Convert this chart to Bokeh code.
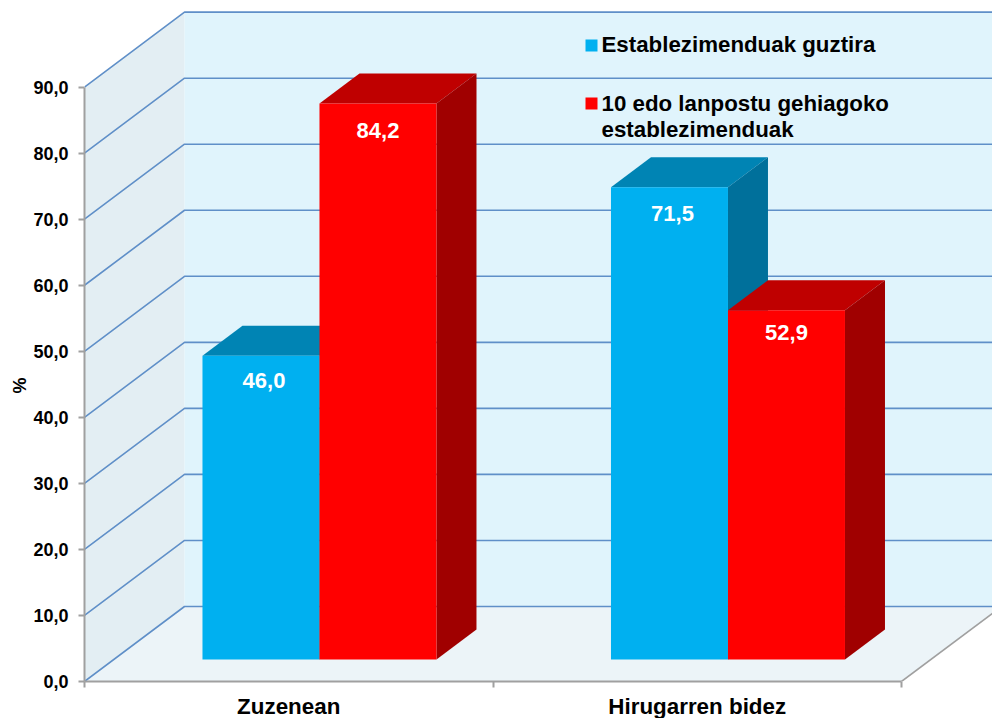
from bokeh.plotting import figure
from bokeh.models import Range1d, FixedTicker, Label, BoxAnnotation, Title
from bokeh.embed import file_html
from bokeh.resources import INLINE
from bokeh.core.properties import value

categories = ["Zuzenean", "Hirugarren bidez"]
series_names = ["Establezimenduak guztira", "10 edo lanpostu gehiagoko\nestablezimenduak"]
total_values = [46.0, 71.5]
large_values = [84.2, 52.9]
y_ticks = [0, 10, 20, 30, 40, 50, 60, 70, 80, 90]
y_tick_labels = ["0,0", "10,0", "20,0", "30,0", "40,0", "50,0", "60,0", "70,0", "80,0", "90,0"]

FONT = "Liberation Sans"
CAT_PX = 408.5
VAL_PX = 6.604
W, H = 992, 718
LEFT, BOTTOM = 84, 37
xmax = (W - LEFT) / CAT_PX
ymax = (H - BOTTOM) / VAL_PX

# 3-D projection: a depth of 1 is the back wall
DX = 100 / CAT_PX
DY = 75 / VAL_PX
def X(x, d=0.0):
    return x + d * DX
def Y(v, d=0.0):
    return v + d * DY
# page pixel to data, for the legend placement only
def PX(x):
    return (x - LEFT) / CAT_PX
def PY(y):
    return (H - BOTTOM - y) / VAL_PX

p = figure(width=W, height=H, output_backend="svg", toolbar_location=None,
           x_range=Range1d(0, xmax), y_range=Range1d(0, ymax),
           frame_width=W - LEFT, frame_height=H - BOTTOM,
           min_border_left=LEFT, min_border_right=0, min_border_top=0, min_border_bottom=BOTTOM)
p.outline_line_color = None
p.grid.visible = False
p.background_fill_color = "white"

top = y_ticks[-1]
p.patch([X(0), X(0, 1), X(0, 1), X(0)], [Y(0), Y(0, 1), Y(top, 1), Y(top)], fill_color="#E3EEF3", line_color=None)
p.patch([X(0, 1), X(2, 1.2), X(2, 1.2), X(0, 1)], [Y(0, 1), Y(0, 1), Y(top, 1), Y(top, 1)], fill_color="#E0F4FC", line_color=None)
p.patch([X(0), X(2), X(2, 1), X(0, 1)], [Y(0), Y(0), Y(0, 1), Y(0, 1)], fill_color="#ECF4F8", line_color=None)

GRID = "#5F8FC8"
for v in y_ticks:
    p.line([X(0), X(0, 1), X(2, 1.2)], [Y(v), Y(v, 1), Y(v, 1)], line_color=GRID, line_width=1.6)
p.line([X(2), X(2, 1.2)], [Y(0), Y(0, 1.2)], line_color="#A0A0A0", line_width=1.6)

# bars
D0 = 22 / 75
D1 = D0 + 30 / 75
BAR = 117 / CAT_PX
OFF = [0.2170, 0.2170 + BAR]

def bar(x0, v, face, roof, side):
    x1 = x0 + BAR
    p.patch([X(x0, D0), X(x1, D0), X(x1, D1), X(x0, D1)],
            [Y(v, D0), Y(v, D0), Y(v, D1), Y(v, D1)], fill_color=roof, line_color=None)
    p.patch([X(x1, D0), X(x1, D1), X(x1, D1), X(x1, D0)],
            [Y(0, D0), Y(0, D1), Y(v, D1), Y(v, D0)], fill_color=side, line_color=None)
    p.patch([X(x0, D0), X(x1, D0), X(x1, D0), X(x0, D0)],
            [Y(0, D0), Y(0, D0), Y(v, D0), Y(v, D0)], fill_color=face, line_color=None)

styles = [("#00B0F0", "#0084B4", "#00709B"), ("#FF0000", "#BF0000", "#A00000")]
for i in range(len(categories)):
    bar(i + OFF[0], total_values[i], *styles[0])
    bar(i + OFF[1], large_values[i], *styles[1])

label_dy = [[25, 26], [27, 22]]
label_dx = [3, 0]
for s, vals in enumerate([total_values, large_values]):
    xs = [X(i + OFF[s] + BAR / 2, D0) for i in range(len(vals))]
    ys = [Y(v, D0) for v in vals]
    p.text(xs, ys, text=[f"{v:.1f}".replace(".", ",") for v in vals], text_color="white",
           text_font=value(FONT), text_font_style="bold", text_font_size="22px",
           text_align="center", text_baseline="middle", x_offset=label_dx[s], y_offset=label_dy[s])

# axes
ya = p.yaxis[0]
ya.ticker = FixedTicker(ticks=y_ticks)
ya.major_label_overrides = dict(zip(y_ticks, y_tick_labels))
ya.bounds = (0, top)
ya.axis_line_color = "#A0A0A0"
ya.axis_line_width = 2
ya.major_tick_line_color = "#A0A0A0"
ya.major_tick_line_width = 2
ya.major_tick_in = 0
ya.major_tick_out = 6
ya.minor_tick_out = 0
ya.minor_tick_in = 0
ya.major_label_standoff = 10
ya.major_label_text_font = FONT
ya.major_label_text_font_style = "bold"
ya.major_label_text_font_size = "18px"
ya.major_label_text_color = "black"

p.add_layout(Title(text="%", align="left", offset=288, standoff=2,
                   text_font=FONT, text_font_style="bold", text_font_size="18px", text_color="black"), "left")

xa = p.xaxis[0]
xa.ticker = FixedTicker(ticks=[0.5, 1.5], minor_ticks=[0, 1, 2])
xa.major_label_overrides = {0.5: categories[0], 1.5: categories[1]}
xa.bounds = (0, 2)
xa.axis_line_color = "#A0A0A0"
xa.axis_line_width = 2
xa.major_tick_in = 0
xa.major_tick_out = 0
xa.minor_tick_in = 0
xa.minor_tick_out = 6
xa.minor_tick_line_color = "#A0A0A0"
xa.minor_tick_line_width = 2
xa.major_label_standoff = 6
xa.major_label_text_font = FONT
xa.major_label_text_font_style = "bold"
xa.major_label_text_font_size = "22.4px"
xa.major_label_text_color = "black"

# legend
for (y0, y1, color) in [(39, 51, styles[0][0]), (97, 109, styles[1][0])]:
    p.add_layout(BoxAnnotation(left=PX(585), right=PX(597), top=PY(y0), bottom=PY(y1),
                               fill_color=color, fill_alpha=1, line_color=None))
for (y, txt) in [(31, series_names[0]), (90, series_names[1])]:
    p.add_layout(Label(x=PX(601), y=PY(y), text=txt, text_font=FONT, text_font_style="bold",
                       text_font_size="22.3px", text_color="black", text_align="left",
                       text_baseline="top", text_line_height=1.05))

open("out.html", "w").write(file_html(p, INLINE))
